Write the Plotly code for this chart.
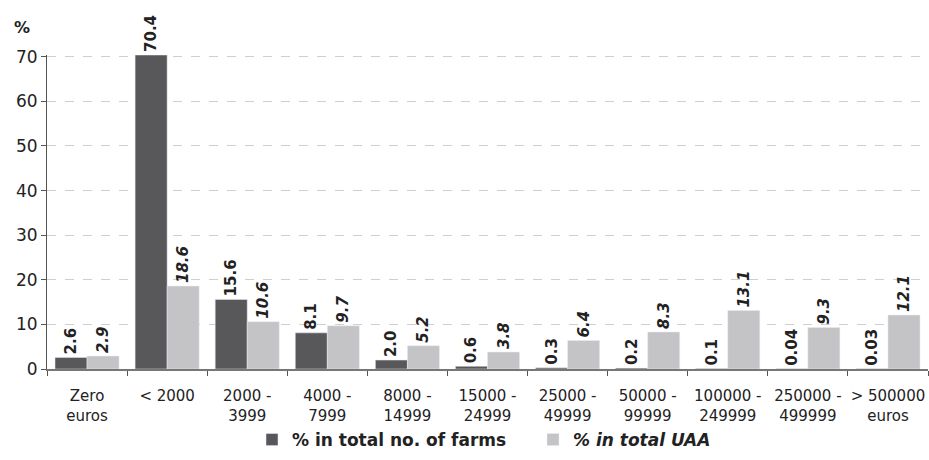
import plotly.graph_objects as go

# categories (farm size classes in euros)
categories = ["Zero<br>euros", "< 2000", "2000 -<br>3999", "4000 -<br>7999", "8000 -<br>14999",
              "15000 -<br>24999", "25000 -<br>49999", "50000 -<br>99999", "100000 -<br>249999",
              "250000 -<br>499999", "> 500000<br>euros"]

farms = [2.6, 70.4, 15.6, 8.1, 2.0, 0.6, 0.3, 0.2, 0.1, 0.04, 0.03]
farms_labels = ["2.6", "70.4", "15.6", "8.1", "2.0", "0.6", "0.3", "0.2", "0.1", "0.04", "0.03"]

uaa = [2.9, 18.6, 10.6, 9.7, 5.2, 3.8, 6.4, 8.3, 13.1, 9.3, 12.1]
uaa_labels = ["2.9", "18.6", "10.6", "9.7", "5.2", "3.8", "6.4", "8.3", "13.1", "9.3", "12.1"]

FONT = "DejaVu Sans, Arial, sans-serif"

fig = go.Figure()
fig.add_trace(go.Bar(
    x=categories, y=farms, name="<b>% in total no. of farms</b>",
    marker_color="#58585a", text=farms_labels, textposition="outside",
    textangle=-90, cliponaxis=False, constraintext="none",
    textfont=dict(family=FONT, size=15, color="#222222", weight="bold"),
))
fig.add_trace(go.Bar(
    x=categories, y=uaa, name="<b><i>% in total UAA</i></b>",
    marker_color="#c4c4c6", text=uaa_labels, textposition="outside",
    textangle=-90, cliponaxis=False, constraintext="none",
    textfont=dict(family=FONT, size=15, color="#222222", weight="bold", style="italic"),
))

fig.update_layout(
    width=929, height=460,
    margin=dict(l=47, r=1, t=55, b=91, autoexpand=False),
    paper_bgcolor="white", plot_bgcolor="white",
    barmode="group", bargap=0.2, bargroupgap=0,
    font=dict(family=FONT, size=15, color="#222222"),
    showlegend=True,
    legend=dict(orientation="h", xref="container", yref="container",
                x=252 / 929, xanchor="left", y=20 / 460, yanchor="middle",
                font=dict(size=17), itemwidth=30, traceorder="normal", entrywidth=236),
    annotations=[dict(text="<b>%</b>", x=(22 - 47) / 881, y=(460 - 27 - 91) / 314,
                      xref="paper", yref="paper", showarrow=False,
                      xanchor="center", yanchor="middle", font=dict(size=16))],
)

fig.update_xaxes(
    tickson="boundaries", ticks="outside", ticklen=5, tickcolor="#555555",
    showline=True, linecolor="#777777", linewidth=2, tickangle=0,
    tickfont=dict(size=15, color="#222222"), ticklabelstandoff=12, automargin=False,
)
fig.update_yaxes(
    range=[0, 70.4], tickvals=[0, 10, 20, 30, 40, 50, 60, 70], ticks="outside", ticklen=5,
    tickcolor="#555555", showline=True, linecolor="#555555", linewidth=1,
    showgrid=True, gridcolor="#cfcfcf", griddash="dash", zeroline=False,
    tickfont=dict(size=17, color="#222222"), automargin=False,
)

fig.write_html("out.html", config={"displayModeBar": False},
               post_script="document.body.style.margin='0';")
